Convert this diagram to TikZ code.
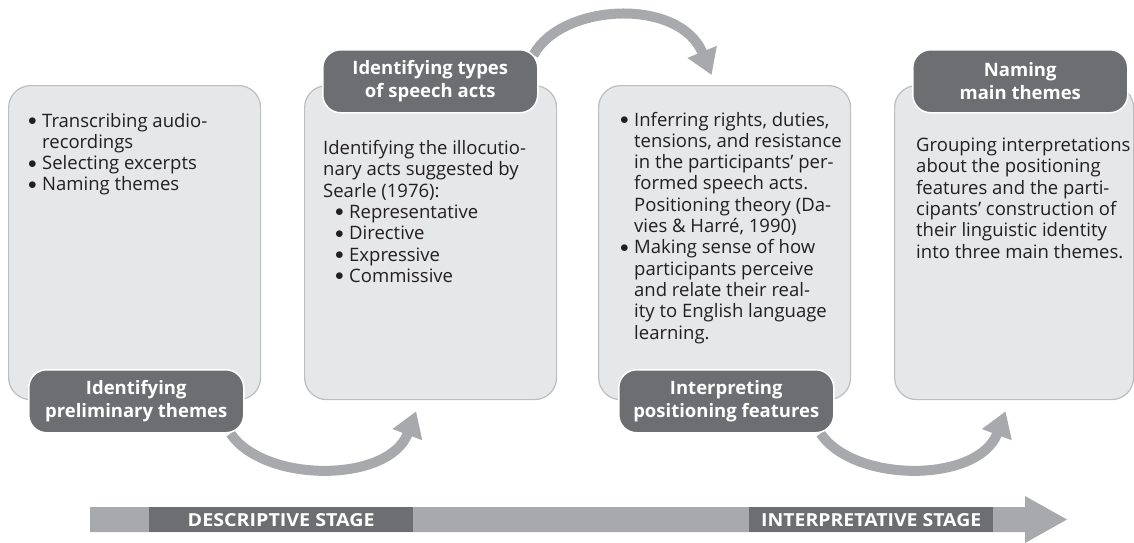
\documentclass[tikz,border=0pt]{standalone}
\usepackage{fontspec}
\usepackage{graphicx}
\setmainfont{Open Sans}
\usetikzlibrary{arrows.meta,calc}

\definecolor{panelfill}{HTML}{E6E7E8}
\definecolor{panelline}{HTML}{BCBEC0}
\definecolor{tagfill}{HTML}{6D6E71}
\definecolor{flowgray}{HTML}{A7A9AC}
\definecolor{ink}{HTML}{231F20}

\pgfdeclarelayer{back}
\pgfsetlayers{back,main}

% bullet with hanging indent
\newcommand\bul{\makebox[14pt][l]{\raisebox{1.6pt}{$\bullet$}}}
\newcommand\hang{\hspace*{14pt}}

\begin{document}
\begin{tikzpicture}[x=1pt,y=-1pt,
  panel/.style={draw=panelline, line width=1.2pt, fill=panelfill,
    rounded corners=22pt, minimum width=252pt, minimum height=314pt,
    anchor=north west, inner sep=0pt},
  tag/.style={draw=white, line width=1.5pt, fill=tagfill, rounded corners=18pt,
    minimum width=215pt, minimum height=63pt, anchor=north west, text=white,
    font=\fontsize{18.5}{23}\selectfont\bfseries, align=center, inner sep=0pt},
  flow/.style={draw=flowgray, line width=10pt,
    -{Triangle[length=25pt,width=30pt]}},
  body/.style={anchor=base west, inner sep=0pt, text=ink,
    font=\fontsize{18.5}{21.3}\selectfont},
  stage/.style={fill=tagfill, minimum height=25pt, inner sep=0pt,
    anchor=north west, text=white, font=\bfseries}
]
\useasboundingbox (0,0) rectangle (1134,542);

% step panels
\node[panel] (b1) at (8,85) {};
\node[panel] (b2) at (304,85) {};
\node[panel] (b3) at (598,85) {};
\node[panel, minimum width=239pt] (b4) at (894,85) {};

% panel contents
\node[body] (t1) at ([xshift=20pt,yshift=-42pt]b1.north west) {\parbox[t]{260pt}{%
\bul Transcribing audio-\\
\hang recordings\\
\bul Selecting excerpts\\
\bul Naming themes}};

\node[body] (t2) at ([xshift=19pt,yshift=-69.5pt]b2.north west) {\parbox[t]{260pt}{%
Identifying the illocutio-\\
nary acts suggested by\\
Searle (1976):\\
\hspace*{12pt}\bul Representative\\
\hspace*{12pt}\bul Directive\\
\hspace*{12pt}\bul Expressive\\
\hspace*{12pt}\bul Commissive}};

\node[body] (t3) at ([xshift=22pt,yshift=-41pt]b3.north west) {\parbox[t]{260pt}{%
\bul Inferring rights, duties,\\
\hang tensions, and resistance\\
\hang in the participants’ per-\\
\hang formed speech acts.\\
\hang Positioning theory (Da-\\
\hang vies \& Harré, 1990)\\
\bul Making sense of how\\
\hang participants perceive\\
\hang and relate their real-\\
\hang ity to English language\\
\hang learning.}};

\node[body] (t4) at ([xshift=22pt,yshift=-66.5pt]b4.north west) {\parbox[t]{260pt}{%
Grouping interpretations\\
about the positioning\\
features and the parti-\\
cipants’ construction of\\
their linguistic identity\\
into three main themes.}};

% step titles
\node[tag] (l1) at (28,369) {Identifying\\preliminary themes};
\node[tag] (l2) at (322,49) {Identifying types\\of speech acts};
\node[tag] (l3) at (618,369) {Interpreting\\positioning features};
\node[tag] (l4) at (912,49) {Naming\\main themes};

% curved arrows between steps
\begin{pgfonlayer}{back}
\draw[flow] ([xshift=-14pt]l1.south east) .. controls +(34,50) and +(-27,72) .. ([xshift=-14.5pt,yshift=-11pt]b2.south);
\draw[flow] ([xshift=-5pt,yshift=-6pt]l2.north east) .. controls +(28,-52) and +(-32,-78) .. ([xshift=-13pt,yshift=10pt]b3.north);
\draw[flow] ([xshift=-14pt]l3.south east) .. controls +(34,50) and +(-27,72) .. ([xshift=-8.5pt,yshift=-11pt]b4.south);
\end{pgfonlayer}

% stage band
\fill[flowgray] (90,507) -- (1025,507) -- (1025,496) -- (1067,519.5)
  -- (1025,543) -- (1025,532) -- (90,532) -- cycle;
\node[stage, minimum width=264pt] (s1) at (149,507)
  {\resizebox{187pt}{13pt}{DESCRIPTIVE STAGE}};
\node[stage, minimum width=244pt] (s2) at (749,507)
  {\resizebox{220pt}{13pt}{INTERPRETATIVE STAGE}};
\end{tikzpicture}
\end{document}
